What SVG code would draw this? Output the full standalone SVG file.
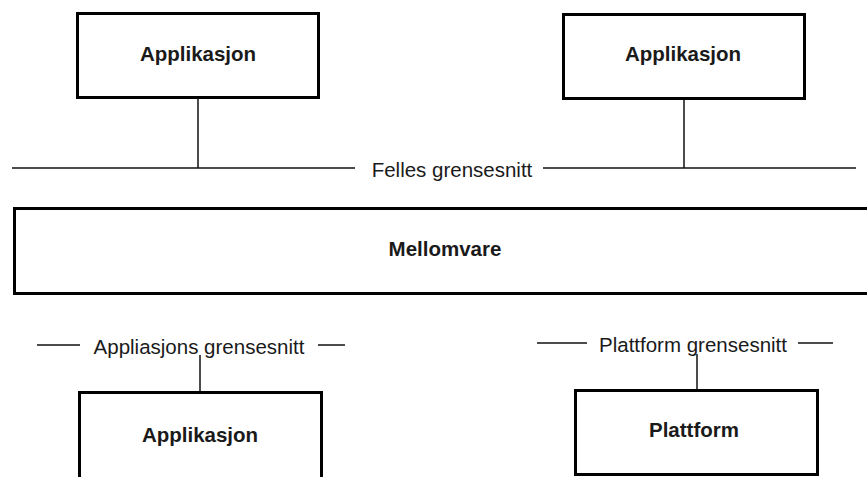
<svg xmlns="http://www.w3.org/2000/svg" width="867" height="477" viewBox="0 0 867 477">
  <style>
    .box { fill: #ffffff; stroke: #000000; stroke-width: 3; }
    .wire { fill: none; stroke: #111111; stroke-width: 1.5; }
    .title { font-family: "Liberation Sans", Arial, sans-serif; font-size: 20.5px; font-weight: bold; fill: #1a1a1a; text-anchor: middle; }
    .iface { font-family: "Liberation Sans", Arial, sans-serif; font-size: 20.5px; fill: #1a1a1a; text-anchor: middle; }
  </style>
  <rect width="867" height="477" fill="#ffffff"/>

  <!-- interface lines and connectors -->
  <g id="connectors">
    <!-- shared interface bus -->
    <line class="wire" x1="12" y1="168" x2="355" y2="168"/>
    <line class="wire" x1="543" y1="168" x2="856" y2="168"/>
    <line class="wire" x1="198" y1="98" x2="198" y2="168"/>
    <line class="wire" x1="684" y1="99" x2="684" y2="168"/>
    <!-- application interface -->
    <line class="wire" x1="37" y1="345" x2="80" y2="345"/>
    <line class="wire" x1="318" y1="345" x2="345" y2="345"/>
    <line class="wire" x1="200" y1="355" x2="200" y2="392"/>
    <!-- platform interface -->
    <line class="wire" x1="537" y1="343" x2="587" y2="343"/>
    <line class="wire" x1="798" y1="343" x2="833" y2="343"/>
    <line class="wire" x1="697" y1="354" x2="697" y2="389"/>
  </g>

  <g id="iface-labels">
    <text class="iface" x="452" y="177">Felles grensesnitt</text>
    <text class="iface" x="199" y="354">Appliasjons grensesnitt</text>
    <text class="iface" x="693" y="352">Plattform grensesnitt</text>
  </g>

  <g id="app-top-left">
    <rect class="box" x="77.5" y="13.5" width="241" height="84"/>
    <text class="title" x="198" y="61">Applikasjon</text>
  </g>

  <g id="app-top-right">
    <rect class="box" x="563.5" y="14.5" width="241" height="84"/>
    <text class="title" x="683" y="61">Applikasjon</text>
  </g>

  <g id="mellomvare">
    <rect class="box" x="14.5" y="208.5" width="870" height="85"/>
    <text class="title" x="445" y="256">Mellomvare</text>
  </g>

  <g id="app-bottom">
    <rect class="box" x="79.5" y="392.5" width="242" height="100"/>
    <text class="title" x="200" y="442">Applikasjon</text>
  </g>

  <g id="plattform">
    <rect class="box" x="575.5" y="390.5" width="242" height="84"/>
    <text class="title" x="694" y="437">Plattform</text>
  </g>
</svg>
